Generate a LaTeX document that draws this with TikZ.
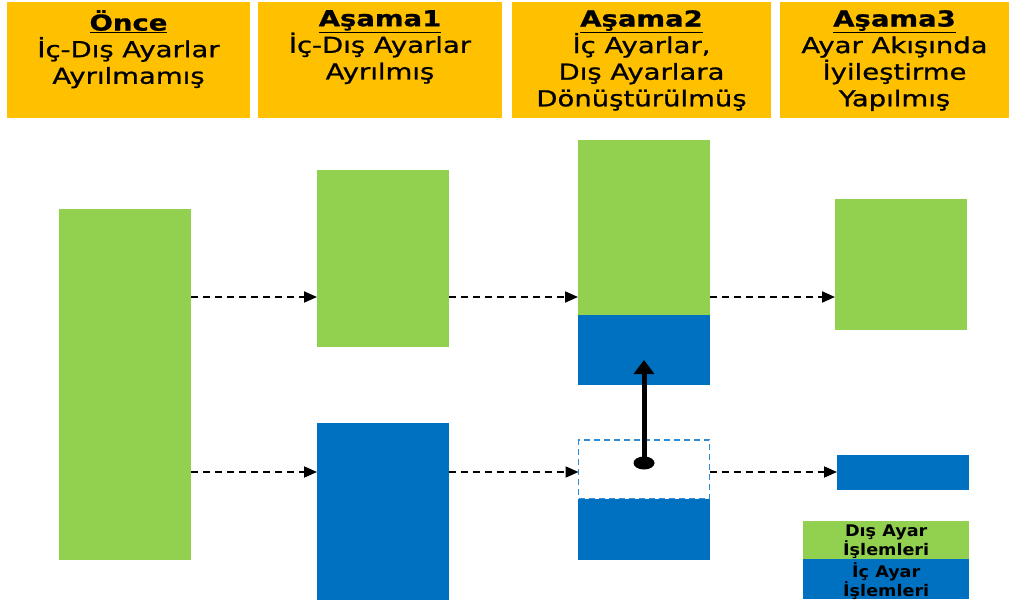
\documentclass[tikz,border=0pt]{standalone}
\usepackage{fontspec}
\setmainfont{DejaVu Sans}[FakeStretch=1.25, FakeBold=0.9]
\newfontfamily\legendfont{DejaVu Sans}[FakeStretch=1.1]
\usetikzlibrary{arrows.meta}
\definecolor{hdr}{HTML}{FFC000}
\definecolor{dis}{HTML}{92D050}
\definecolor{ic}{HTML}{0070C0}
\definecolor{icedge}{HTML}{2E8BD6}
\tikzset{
  hdrbox/.style={fill=hdr, anchor=north west, inner sep=0pt, outer sep=0pt,
    minimum width=#1, minimum height=116pt},
  hdrtext/.style={anchor=north, align=center, inner sep=0pt,
    font=\fontsize{22}{26.6}\selectfont},
  blk/.style={anchor=north west, inner sep=0pt, outer sep=0pt, minimum width=#1},
  flow/.style={line width=1.9pt, dash pattern=on 7pt off 5pt,
    -{Triangle[length=13pt,width=11pt]}},
  lgd/.style={anchor=north west, inner sep=0pt, minimum width=166pt, align=center,
    font=\legendfont\fontsize{16}{18.5}\selectfont\bfseries},
  lgdtext/.style={align=center, inner sep=0pt,
    font=\legendfont\fontsize{16}{19}\selectfont\bfseries}
}
\begin{document}
\begin{tikzpicture}[x=1pt,y=-1pt]
\useasboundingbox (0,0) rectangle (1012,604);

% column headers
\node[hdrbox=243pt] (h0) at (7,2) {};
\node[hdrbox=244pt] (h1) at (258,2) {};
\node[hdrbox=259pt] (h2) at (512,2) {};
\node[hdrbox=229pt] (h3) at (780,2) {};
\node[hdrtext] (t0) at (h0.north |- 0,10)
  {\textbf{\underline{Önce}}\\İç-Dış Ayarlar\\Ayrılmamış};
\node[hdrtext] (t1) at (h1.north |- 0,10)
  {\textbf{\underline{Aşama1}}\\İç-Dış Ayarlar\\Ayrılmış};
\node[hdrtext] (t2) at (h2.north |- 0,10)
  {\textbf{\underline{Aşama2}}\\İç Ayarlar,\\Dış Ayarlara\\Dönüştürülmüş};
\node[hdrtext] (t3) at (h3.north |- 0,10)
  {\textbf{\underline{Aşama3}}\\Ayar Akışında\\İyileştirme\\Yapılmış};

% setup blocks
\node[blk=132pt, minimum height=351pt, fill=dis] (g0) at (59,209) {};
\node[blk=132pt, minimum height=177pt, fill=dis] (g1) at (317,170) {};
\node[blk=132pt, minimum height=177pt, fill=ic] (b1) at (317,423) {};
\node[blk=132pt, minimum height=175pt, fill=dis] (g2) at (578,140) {};
\node[blk=132pt, minimum height=70pt, fill=ic] (c2) at (578,315) {};
\node[blk=131pt, minimum height=59pt, draw=icedge, line width=1.3pt,
      dash pattern=on 6pt off 4pt] (d2) at (578.5,440) {};
\node[blk=132pt, minimum height=61pt, fill=ic] (b2) at (578,499) {};
\node[blk=132pt, minimum height=131pt, fill=dis] (g3) at (835,199) {};
\node[blk=132pt, minimum height=35pt, fill=ic] (b3) at (837,455) {};

% legend
\node[lgd, minimum height=38pt, fill=dis] (l1) at (803,521) {};
\node[lgd, minimum height=40pt, fill=ic] (l2) at (803,559) {};
\node[lgdtext] (l1t) at ([yshift=-2pt]l1.center) {Dış Ayar\\İşlemleri};
\node[lgdtext] (l2t) at ([yshift=-1.5pt]l2.center) {İç Ayar\\İşlemleri};

% flow between stages
\coordinate (r1) at (0,297);
\coordinate (r2) at (0,472);
\draw[flow] (g0.east |- r1) -- (g1.west |- r1);
\draw[flow] (g1.east |- r1) -- (g2.west |- r1);
\draw[flow] (g2.east |- r1) -- (g3.west |- r1);
\draw[flow] (g0.east |- r2) -- (b1.west |- r2);
\draw[flow] (b1.east |- r2) -- (d2.west |- r2);
\draw[flow] (d2.east |- r2) -- (b3.west |- r2);

% conversion of internal setup to external
\coordinate (up0) at (644,463);
\coordinate (up1) at (644,360);
\fill (up0) ellipse (10.5pt and 6.5pt);
\draw[line width=5pt, -{Triangle[length=14pt,width=20pt]}] (up0) -- (up1);
\end{tikzpicture}
\end{document}
